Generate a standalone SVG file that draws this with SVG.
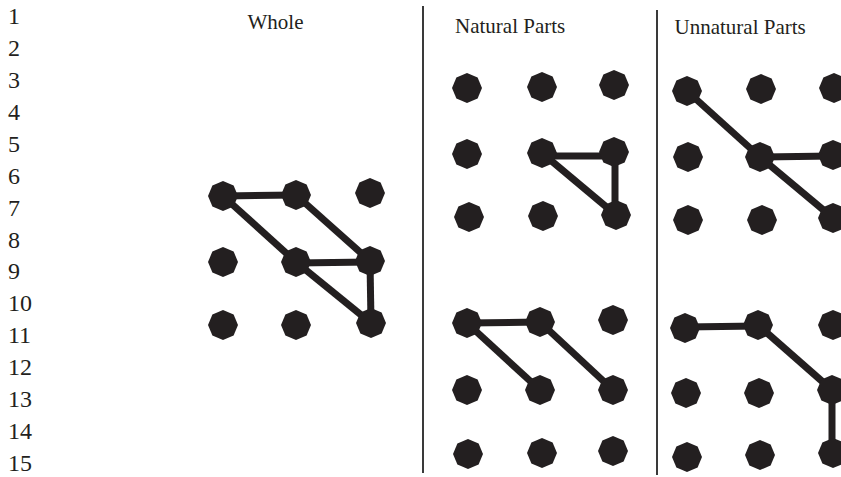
<svg xmlns="http://www.w3.org/2000/svg" xmlns:xlink="http://www.w3.org/1999/xlink" width="841" height="477" viewBox="0 0 841 477">
<style>
.num{font-family:"Liberation Serif","Times New Roman",serif;font-size:24px;fill:#231f20}
.hdr{font-family:"Liberation Serif","Times New Roman",serif;font-size:21px;fill:#231f20}
.div{stroke:#3a3a3a;stroke-width:2;fill:none}
.edge{stroke:#231f20;stroke-width:7;fill:none}
.dot{fill:#231f20}
</style>
<defs>
<polygon id="oct" points="15,0 10.6,10.6 0,15 -10.6,10.6 -15,0 -10.6,-10.6 0,-15 10.6,-10.6"/>
</defs>
<rect width="841" height="477" fill="#ffffff"/>
<g id="row-numbers">
<text class="num" x="8" y="24">1</text>
<text class="num" x="8" y="56">2</text>
<text class="num" x="8" y="88">3</text>
<text class="num" x="8" y="120">4</text>
<text class="num" x="8" y="152">5</text>
<text class="num" x="8" y="183.5">6</text>
<text class="num" x="8" y="215.5">7</text>
<text class="num" x="8" y="247.5">8</text>
<text class="num" x="8" y="279">9</text>
<text class="num" x="8" y="311">10</text>
<text class="num" x="8" y="343">11</text>
<text class="num" x="8" y="375">12</text>
<text class="num" x="8" y="407">13</text>
<text class="num" x="8" y="439">14</text>
<text class="num" x="8" y="471">15</text>
</g>
<g id="headers">
<text class="hdr" x="247.5" y="29">Whole</text>
<text class="hdr" x="455" y="33">Natural Parts</text>
<text class="hdr" x="674.5" y="34">Unnatural Parts</text>
</g>
<g id="dividers">
<line class="div" x1="423" y1="6" x2="423" y2="473"/>
<line class="div" x1="657" y1="10" x2="657" y2="475"/>
</g>
<g id="connectors">
<line class="edge" x1="223" y1="196" x2="296" y2="195"/>
<line class="edge" x1="223" y1="196" x2="296" y2="262"/>
<line class="edge" x1="296" y1="262" x2="371" y2="323"/>
<line class="edge" x1="296" y1="195" x2="370" y2="261"/>
<line class="edge" x1="296" y1="263" x2="370" y2="262"/>
<line class="edge" x1="370" y1="261" x2="371" y2="323"/>
<line class="edge" x1="542" y1="156" x2="614" y2="156"/>
<line class="edge" x1="542" y1="153" x2="616" y2="215"/>
<line class="edge" x1="615" y1="152" x2="615" y2="215"/>
<line class="edge" x1="687" y1="91" x2="760" y2="157"/>
<line class="edge" x1="760" y1="157" x2="833" y2="156"/>
<line class="edge" x1="760" y1="157" x2="833" y2="218"/>
<line class="edge" x1="467" y1="323" x2="540" y2="322"/>
<line class="edge" x1="467" y1="323" x2="540" y2="390"/>
<line class="edge" x1="540" y1="322" x2="613" y2="390"/>
<line class="edge" x1="685" y1="327" x2="758" y2="326"/>
<line class="edge" x1="758" y1="325" x2="832" y2="390"/>
<line class="edge" x1="832" y1="390" x2="832" y2="453"/>
</g>
<g id="whole-nodes" class="dot">
<use id="w-a1" xlink:href="#oct" x="223" y="196"/>
<use id="w-a2" xlink:href="#oct" x="296" y="195"/>
<use id="w-a3" xlink:href="#oct" x="370" y="193"/>
<use id="w-b1" xlink:href="#oct" x="223" y="262"/>
<use id="w-b2" xlink:href="#oct" x="296" y="262"/>
<use id="w-b3" xlink:href="#oct" x="370" y="261"/>
<use id="w-c1" xlink:href="#oct" x="223" y="325"/>
<use id="w-c2" xlink:href="#oct" x="296" y="325"/>
<use id="w-c3" xlink:href="#oct" x="371" y="323"/>
</g>
<g id="natural-top-nodes" class="dot">
<use id="nt-a1" xlink:href="#oct" x="467" y="88"/>
<use id="nt-a2" xlink:href="#oct" x="542" y="87"/>
<use id="nt-a3" xlink:href="#oct" x="614" y="85"/>
<use id="nt-b1" xlink:href="#oct" x="467" y="154"/>
<use id="nt-b2" xlink:href="#oct" x="542" y="153"/>
<use id="nt-b3" xlink:href="#oct" x="614" y="152"/>
<use id="nt-c1" xlink:href="#oct" x="469" y="217"/>
<use id="nt-c2" xlink:href="#oct" x="543" y="216"/>
<use id="nt-c3" xlink:href="#oct" x="616" y="215"/>
</g>
<g id="unnatural-top-nodes" class="dot">
<use id="ut-a1" xlink:href="#oct" x="687" y="91"/>
<use id="ut-a2" xlink:href="#oct" x="761" y="89"/>
<use id="ut-a3" xlink:href="#oct" x="834" y="88"/>
<use id="ut-b1" xlink:href="#oct" x="688" y="157"/>
<use id="ut-b2" xlink:href="#oct" x="760" y="157"/>
<use id="ut-b3" xlink:href="#oct" x="833" y="155"/>
<use id="ut-c1" xlink:href="#oct" x="688" y="220"/>
<use id="ut-c2" xlink:href="#oct" x="762" y="220"/>
<use id="ut-c3" xlink:href="#oct" x="833" y="218"/>
</g>
<g id="natural-bottom-nodes" class="dot">
<use id="nb-a1" xlink:href="#oct" x="467" y="323"/>
<use id="nb-a2" xlink:href="#oct" x="540" y="322"/>
<use id="nb-a3" xlink:href="#oct" x="613" y="320"/>
<use id="nb-b1" xlink:href="#oct" x="467" y="390"/>
<use id="nb-b2" xlink:href="#oct" x="540" y="390"/>
<use id="nb-b3" xlink:href="#oct" x="613" y="390"/>
<use id="nb-c1" xlink:href="#oct" x="468" y="454"/>
<use id="nb-c2" xlink:href="#oct" x="542" y="453"/>
<use id="nb-c3" xlink:href="#oct" x="613" y="451"/>
</g>
<g id="unnatural-bottom-nodes" class="dot">
<use id="ub-a1" xlink:href="#oct" x="685" y="328"/>
<use id="ub-a2" xlink:href="#oct" x="758" y="325"/>
<use id="ub-a3" xlink:href="#oct" x="833" y="325"/>
<use id="ub-b1" xlink:href="#oct" x="686" y="393"/>
<use id="ub-b2" xlink:href="#oct" x="759" y="393"/>
<use id="ub-b3" xlink:href="#oct" x="832" y="390"/>
<use id="ub-c1" xlink:href="#oct" x="687" y="457"/>
<use id="ub-c2" xlink:href="#oct" x="760" y="455"/>
<use id="ub-c3" xlink:href="#oct" x="833" y="453"/>
</g>
</svg>
